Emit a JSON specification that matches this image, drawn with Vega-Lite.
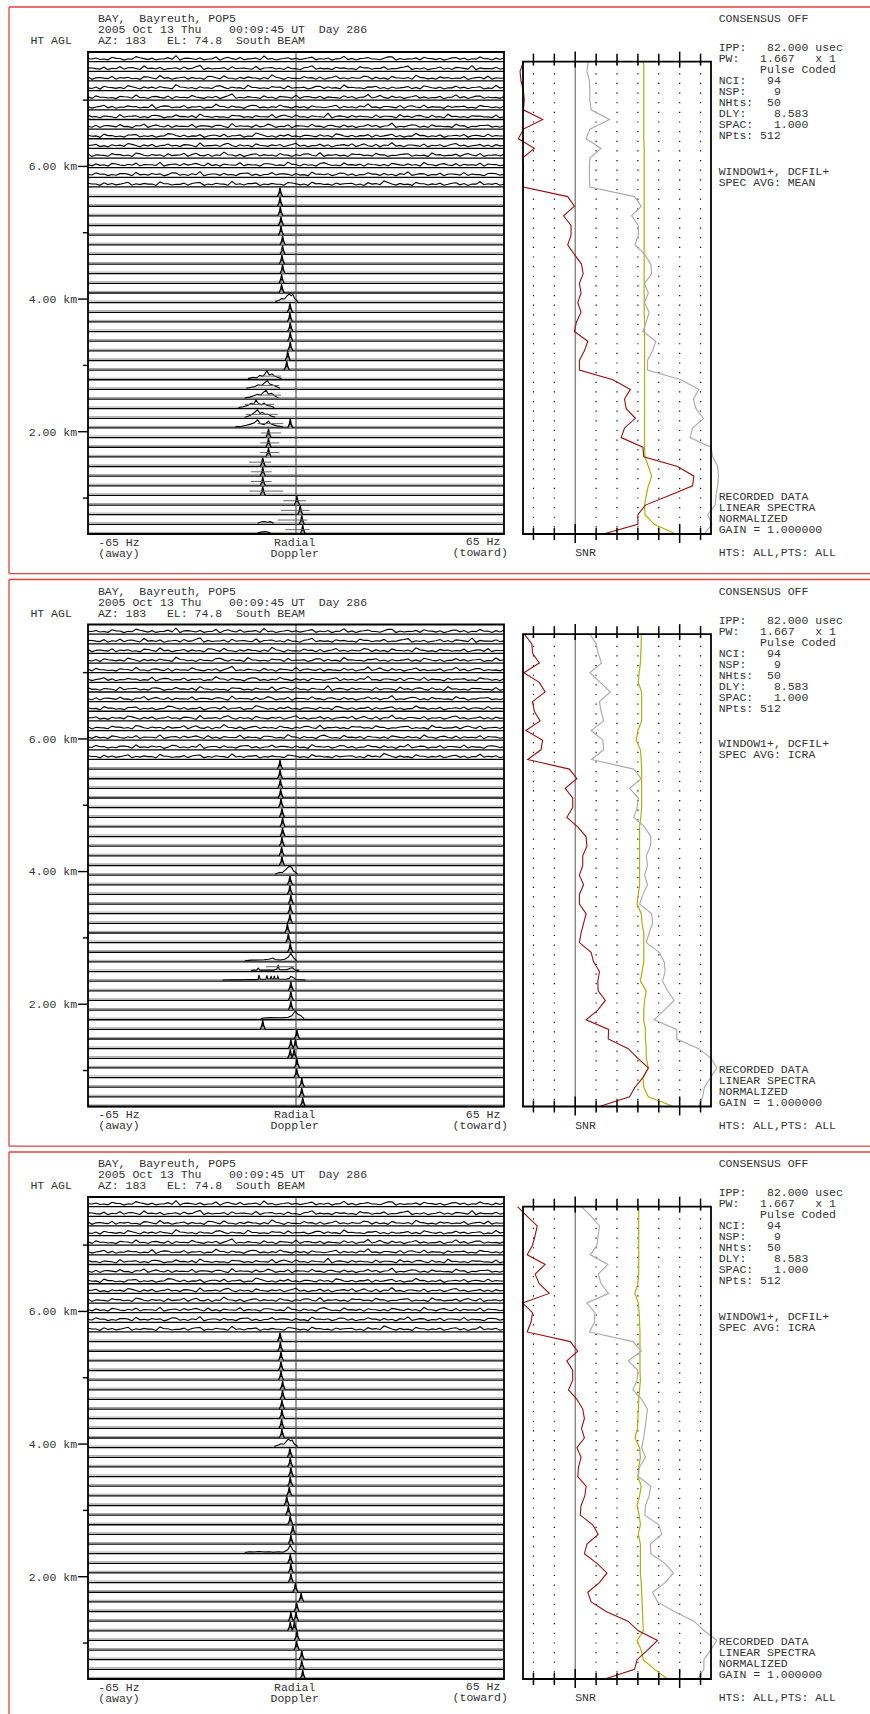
{
"$schema":"https://vega.github.io/schema/vega-lite/v6.json",
"background":"white",
"padding":{"left":8,"top":6,"right":0,"bottom":0},
"autosize":{"type":"pad"},
"spacing":6.5,
"bounds":"flush",
"config":{"view":{"stroke":null},"text":{"font":"Liberation Mono","fontSize":11.5,"fill":"#333"}},
"datasets":{
"rows":[{"h":0},{"h":100},{"h":200},{"h":300},{"h":400},{"h":500},{"h":600},{"h":700},{"h":800},{"h":900},{"h":1000},{"h":1100},{"h":1200},{"h":1300},{"h":1400},{"h":1500},{"h":1600},{"h":1700},{"h":1800},{"h":1900},{"h":2000},{"h":2100},{"h":2200},{"h":2300},{"h":2400},{"h":2500},{"h":2600},{"h":2700},{"h":2800},{"h":2900},{"h":3000},{"h":3100},{"h":3200},{"h":3300},{"h":3400},{"h":3500},{"h":3600},{"h":3700},{"h":3800},{"h":3900},{"h":4000},{"h":4100},{"h":4200},{"h":4300},{"h":4400},{"h":4500},{"h":4600},{"h":4700},{"h":4800},{"h":4900}],
"km":[{"t":373,"m":0},{"t":1061,"m":1,"l":"2.00 km"},{"t":1749,"m":0},{"t":2437,"m":1,"l":"4.00 km"},{"t":3125,"m":0},{"t":3813,"m":1,"l":"6.00 km"},{"t":4501,"m":0}],
"dots":[{"d":-10},{"d":-5},{"d":5},{"d":10},{"d":15},{"d":20},{"d":25},{"d":30}],
"tS":[{"d":-10},{"d":-5},{"d":5},{"d":10},{"d":15},{"d":20},{"d":30}],
"tL":[{"d":0},{"d":25}],
"noise":[
{"f":-65,"r49":4930,"r48":4835,"r47":4741,"r46":4628,"r45":4537,"r44":4432,"r43":4344,"r42":4229,"r41":4136,"r40":4031,"r39":3940,"r38":3834,"r37":3730,"r36":3638},
{"f":-62.5,"r49":4938,"r48":4828,"r47":4732,"r46":4636,"r45":4545,"r44":4429,"r43":4331,"r42":4240,"r41":4130,"r40":4043,"r39":3933,"r38":3839,"r37":3746,"r36":3631},
{"f":-60,"r49":4927,"r48":4842,"r47":4729,"r46":4644,"r45":4531,"r44":4447,"r43":4336,"r42":4235,"r41":4148,"r40":4029,"r39":3928,"r38":3830,"r37":3735,"r36":3643},
{"f":-57.5,"r49":4945,"r48":4831,"r47":4748,"r46":4630,"r45":4528,"r44":4436,"r43":4329,"r42":4231,"r41":4133,"r40":4037,"r39":3946,"r38":3844,"r37":3729,"r36":3635},
{"f":-55,"r49":4933,"r48":4847,"r47":4735,"r46":4633,"r45":4540,"r44":4430,"r43":4350,"r42":4246,"r41":4129,"r40":4034,"r39":3935,"r38":3828,"r37":3738,"r36":3629},
{"f":-52.5,"r49":4929,"r48":4836,"r47":4738,"r46":4651,"r45":4534,"r44":4441,"r43":4333,"r42":4228,"r41":4139,"r40":4050,"r39":3931,"r38":3836,"r37":3733,"r36":3648},
{"f":-50,"r49":4952,"r48":4829,"r47":4727,"r46":4629,"r45":4554,"r44":4435,"r43":4338,"r42":4237,"r41":4144,"r40":4030,"r39":3952,"r38":3847,"r37":3751,"r36":3633},
{"f":-47.5,"r49":4931,"r48":4855,"r47":4744,"r46":4638,"r45":4530,"r44":4428,"r43":4330,"r42":4252,"r41":4131,"r40":4036,"r39":3929,"r38":3833,"r37":3731,"r36":3637},
{"f":-45,"r49":4936,"r48":4833,"r47":4731,"r46":4635,"r45":4536,"r44":4453,"r43":4342,"r42":4233,"r41":4135,"r40":4041,"r39":3937,"r38":3831,"r37":3740,"r36":3630},
{"f":-42.5,"r49":4928,"r48":4840,"r47":4756,"r46":4642,"r45":4529,"r44":4433,"r43":4335,"r42":4230,"r41":4127,"r40":4028,"r39":3934,"r38":3855,"r37":3736,"r36":3652},
{"f":-40,"r49":4941,"r48":4828,"r47":4734,"r46":4627,"r45":4543,"r44":4439,"r43":4328,"r42":4241,"r41":4153,"r40":4045,"r39":3942,"r38":3829,"r37":3728,"r36":3634},
{"f":-37.5,"r49":4962,"r48":4837,"r47":4729,"r46":4660,"r45":4538,"r44":4430,"r43":4347,"r42":4236,"r41":4134,"r40":4033,"r39":3930,"r38":3838,"r37":3744,"r36":3628},
{"f":-35,"r49":4934,"r48":4844,"r47":4740,"r46":4634,"r45":4531,"r44":4445,"r43":4332,"r42":4229,"r41":4138,"r40":4039,"r39":3949,"r38":3842,"r37":3732,"r36":3640},
{"f":-32.5,"r49":4930,"r48":4830,"r47":4736,"r46":4631,"r45":4549,"r44":4431,"r43":4339,"r42":4248,"r41":4130,"r40":4031,"r39":3936,"r38":3835,"r37":3737,"r36":3636},
{"f":-30,"r49":4939,"r48":4861,"r47":4730,"r46":4639,"r45":4527,"r44":4437,"r43":4356,"r42":4234,"r41":4142,"r40":4056,"r39":3928,"r38":3830,"r37":3759,"r36":3645},
{"f":-27.5,"r49":4927,"r48":4835,"r47":4747,"r46":4628,"r45":4535,"r44":4428,"r43":4330,"r42":4231,"r41":4129,"r40":4029,"r39":3939,"r38":3846,"r37":3730,"r36":3631},
{"f":-25,"r49":4948,"r48":4829,"r47":4733,"r46":4646,"r45":4541,"r44":4458,"r43":4334,"r42":4239,"r41":4136,"r40":4035,"r39":3933,"r38":3832,"r37":3735,"r36":3638},
{"f":-22.5,"r49":4935,"r48":4838,"r47":4752,"r46":4633,"r45":4532,"r44":4434,"r43":4329,"r42":4227,"r41":4147,"r40":4042,"r39":3961,"r38":3837,"r37":3741,"r36":3629},
{"f":-20,"r49":4931,"r48":4846,"r47":4728,"r46":4637,"r45":4565,"r44":4440,"r43":4343,"r42":4257,"r41":4132,"r40":4030,"r39":3931,"r38":3828,"r37":3729,"r36":3657},
{"f":-17.5,"r49":4944,"r48":4832,"r47":4737,"r46":4630,"r45":4530,"r44":4429,"r43":4337,"r42":4235,"r41":4140,"r40":4038,"r39":3938,"r38":3851,"r37":3738,"r36":3633},
{"f":-15,"r49":4929,"r48":4827,"r47":4742,"r46":4655,"r45":4537,"r44":4436,"r43":4331,"r42":4232,"r41":4128,"r40":4033,"r39":3929,"r38":3834,"r37":3745,"r36":3635},
{"f":-12.5,"r49":4937,"r48":4850,"r47":4731,"r46":4632,"r45":4528,"r44":4444,"r43":4340,"r42":4243,"r41":4159,"r40":4047,"r39":3944,"r38":3831,"r37":3733,"r36":3642},
{"f":-10,"r49":4958,"r48":4834,"r47":4735,"r46":4629,"r45":4544,"r44":4431,"r43":4328,"r42":4230,"r41":4133,"r40":4028,"r39":3935,"r38":3840,"r37":3730,"r36":3630},
{"f":-7.5,"r49":4933,"r48":4839,"r47":4763,"r46":4641,"r45":4533,"r44":4433,"r43":4352,"r42":4238,"r41":4131,"r40":4036,"r39":3932,"r38":3836,"r37":3748,"r36":3637},
{"f":-5,"r49":4928,"r48":4831,"r47":4730,"r46":4636,"r45":4539,"r44":4450,"r43":4335,"r42":4229,"r41":4137,"r40":4040,"r39":3947,"r38":3829,"r37":3736,"r36":3628},
{"f":-2.5,"r49":4940,"r48":4843,"r47":4738,"r46":4648,"r45":4530,"r44":4428,"r43":4333,"r42":4245,"r41":4145,"r40":4031,"r39":3930,"r38":3858,"r37":3731,"r36":3646},
{"f":0,"r49":4935,"r48":4828,"r47":4727,"r46":4631,"r45":4552,"r44":4438,"r43":4346,"r42":4236,"r41":4130,"r40":4053,"r39":3936,"r38":3833,"r37":3739,"r36":3634},
{"f":2.5,"r49":4930,"r48":4836,"r47":4745,"r46":4635,"r45":4535,"r44":4435,"r43":4330,"r42":4233,"r41":4135,"r40":4034,"r39":3941,"r38":3838,"r37":3728,"r36":3631},
{"f":5,"r49":4947,"r48":4857,"r47":4734,"r46":4628,"r45":4529,"r44":4442,"r43":4338,"r42":4250,"r41":4128,"r40":4029,"r39":3928,"r38":3830,"r37":3753,"r36":3650},
{"f":7.5,"r49":4932,"r48":4833,"r47":4740,"r46":4644,"r45":4540,"r44":4430,"r43":4329,"r42":4231,"r41":4141,"r40":4044,"r39":3955,"r38":3843,"r37":3734,"r36":3636},
{"f":10,"r49":4938,"r48":4830,"r47":4729,"r46":4639,"r45":4534,"r44":4429,"r43":4364,"r42":4237,"r41":4134,"r40":4037,"r39":3933,"r38":3835,"r37":3737,"r36":3629},
{"f":12.5,"r49":4929,"r48":4841,"r47":4751,"r46":4630,"r45":4527,"r44":4447,"r43":4334,"r42":4228,"r41":4150,"r40":4030,"r39":3937,"r38":3828,"r37":3730,"r36":3641},
{"f":15,"r49":4955,"r48":4835,"r47":4733,"r46":4657,"r45":4546,"r44":4436,"r43":4331,"r42":4242,"r41":4129,"r40":4039,"r39":3930,"r38":3849,"r37":3742,"r36":3633},
{"f":17.5,"r49":4934,"r48":4828,"r47":4736,"r46":4634,"r45":4538,"r44":4432,"r43":4341,"r42":4234,"r41":4136,"r40":4048,"r39":3943,"r38":3832,"r37":3735,"r36":3638},
{"f":20,"r49":4931,"r48":4848,"r47":4728,"r46":4629,"r45":4531,"r44":4439,"r43":4336,"r42":4230,"r41":4132,"r40":4032,"r39":3939,"r38":3837,"r37":3729,"r36":3630},
{"f":22.5,"r49":4942,"r48":4837,"r47":4743,"r46":4638,"r45":4559,"r44":4462,"r43":4328,"r42":4247,"r41":4143,"r40":4028,"r39":3931,"r38":3841,"r37":3747,"r36":3644},
{"f":25,"r49":4928,"r48":4832,"r47":4739,"r46":4645,"r45":4533,"r44":4431,"r43":4345,"r42":4239,"r41":4138,"r40":4042,"r39":3948,"r38":3830,"r37":3733,"r36":3635},
{"f":27.5,"r49":4936,"r48":4845,"r47":4731,"r46":4632,"r45":4529,"r44":4435,"r43":4333,"r42":4232,"r41":4130,"r40":4035,"r39":3934,"r38":3834,"r37":3740,"r36":3662},
{"f":30,"r49":4950,"r48":4829,"r47":4747,"r46":4636,"r45":4542,"r44":4428,"r43":4330,"r42":4261,"r41":4146,"r40":4058,"r39":3929,"r38":3845,"r37":3731,"r36":3631},
{"f":32.5,"r49":4933,"r48":4838,"r47":4730,"r46":4628,"r45":4536,"r44":4444,"r43":4349,"r42":4229,"r41":4133,"r40":4031,"r39":3936,"r38":3829,"r37":3738,"r36":3637},
{"f":35,"r49":4929,"r48":4853,"r47":4735,"r46":4642,"r45":4530,"r44":4437,"r43":4335,"r42":4235,"r41":4129,"r40":4036,"r39":3945,"r38":3839,"r37":3756,"r36":3629},
{"f":37.5,"r49":4939,"r48":4831,"r47":4758,"r46":4633,"r45":4548,"r44":4430,"r43":4338,"r42":4240,"r41":4155,"r40":4029,"r39":3932,"r38":3833,"r37":3730,"r36":3647},
{"f":40,"r49":4945,"r48":4836,"r47":4732,"r46":4650,"r45":4534,"r44":4449,"r43":4329,"r42":4231,"r41":4135,"r40":4045,"r39":3930,"r38":3854,"r37":3736,"r36":3634},
{"f":42.5,"r49":4931,"r48":4827,"r47":4729,"r46":4630,"r45":4528,"r44":4433,"r43":4343,"r42":4244,"r41":4131,"r40":4033,"r39":3952,"r38":3831,"r37":3729,"r36":3632},
{"f":45,"r49":4935,"r48":4844,"r47":4741,"r46":4637,"r45":4539,"r44":4429,"r43":4331,"r42":4233,"r41":4140,"r40":4038,"r39":3935,"r38":3836,"r37":3743,"r36":3639},
{"f":47.5,"r49":4927,"r48":4834,"r47":4736,"r46":4629,"r45":4531,"r44":4441,"r43":4354,"r42":4228,"r41":4128,"r40":4030,"r39":3928,"r38":3828,"r37":3734,"r36":3628},
{"f":50,"r49":4943,"r48":4840,"r47":4730,"r46":4646,"r45":4555,"r44":4435,"r43":4334,"r42":4251,"r41":4137,"r40":4051,"r39":3940,"r38":3842,"r37":3731,"r36":3643},
{"f":52.5,"r49":4938,"r48":4830,"r47":4744,"r46":4635,"r45":4537,"r44":4438,"r43":4330,"r42":4236,"r41":4144,"r40":4034,"r39":3937,"r38":3835,"r37":3749,"r36":3636},
{"f":55,"r49":4930,"r48":4858,"r47":4727,"r46":4631,"r45":4530,"r44":4427,"r43":4339,"r42":4230,"r41":4132,"r40":4028,"r39":3931,"r38":3830,"r37":3735,"r36":3630},
{"f":57.5,"r49":4949,"r48":4835,"r47":4738,"r46":4640,"r45":4543,"r44":4446,"r43":4336,"r42":4238,"r41":4130,"r40":4041,"r39":3946,"r38":3847,"r37":3728,"r36":3654},
{"f":60,"r49":4933,"r48":4829,"r47":4749,"r46":4628,"r45":4533,"r44":4434,"r43":4328,"r42":4242,"r41":4148,"r40":4035,"r39":3929,"r38":3838,"r37":3740,"r36":3633},
{"f":62.5,"r49":4936,"r48":4842,"r47":4733,"r46":4653,"r45":4529,"r44":4431,"r43":4345,"r42":4229,"r41":4134,"r40":4039,"r39":3934,"r38":3832,"r37":3737,"r36":3638},
{"f":65,"r49":4941,"r48":4833,"r47":4731,"r46":4634,"r45":4538,"r44":4440,"r43":4332,"r42":4235,"r41":4129,"r40":4030,"r39":3938,"r38":3829,"r37":3733,"r36":3631},
{"f":-63.75,"r49":4928,"r48":4834,"r47":4717,"r46":4621,"r45":4519,"r44":4418,"r43":4327,"r42":4220,"r41":4126,"r40":4033,"r39":3916,"r38":3819,"r37":3724,"r36":3631},
{"f":-61.25,"r49":4923,"r48":4823,"r47":4735,"r46":4616,"r45":4531,"r44":4436,"r43":4318,"r42":4217,"r41":4115,"r40":4019,"r39":3930,"r38":3824,"r37":3732,"r36":3617},
{"f":-58.75,"r49":4919,"r48":4817,"r47":4724,"r46":4634,"r45":4523,"r44":4421,"r43":4332,"r42":4236,"r41":4133,"r40":4016,"r39":3919,"r38":3817,"r37":3718,"r36":3625},
{"f":-56.25,"r49":4934,"r48":4826,"r47":4718,"r46":4623,"r45":4517,"r44":4417,"r43":4316,"r42":4223,"r41":4121,"r40":4028,"r39":3935,"r38":3838,"r37":3721,"r36":3622},
{"f":-53.75,"r49":4916,"r48":4821,"r47":4729,"r46":4619,"r45":4536,"r44":4427,"r43":4324,"r42":4226,"r41":4117,"r40":4022,"r39":3924,"r38":3821,"r37":3739,"r36":3638},
{"f":-51.25,"r49":4925,"r48":4839,"r47":4723,"r46":4640,"r45":4521,"r44":4432,"r43":4335,"r42":4215,"r41":4140,"r40":4042,"r39":3917,"r38":3826,"r37":3717,"r36":3618},
{"f":-48.75,"r49":4940,"r48":4819,"r47":4716,"r46":4617,"r45":4525,"r44":4419,"r43":4321,"r42":4232,"r41":4119,"r40":4018,"r39":3943,"r38":3818,"r37":3726,"r36":3624},
{"f":-46.25,"r49":4921,"r48":4828,"r47":4741,"r46":4625,"r45":4518,"r44":4423,"r43":4319,"r42":4219,"r41":4124,"r40":4024,"r39":3921,"r38":3830,"r37":3723,"r36":3629},
{"f":-43.75,"r49":4918,"r48":4824,"r47":4721,"r46":4622,"r45":4540,"r44":4415,"r43":4343,"r42":4244,"r41":4116,"r40":4017,"r39":3928,"r38":3823,"r37":3730,"r36":3616},
{"f":-41.25,"r49":4929,"r48":4816,"r47":4727,"r46":4630,"r45":4522,"r44":4441,"r43":4317,"r42":4222,"r41":4129,"r40":4031,"r39":3916,"r38":3816,"r37":3715,"r36":3633},
{"f":-38.75,"r49":4924,"r48":4832,"r47":4718,"r46":4618,"r45":4516,"r44":4422,"r43":4326,"r42":4217,"r41":4150,"r40":4026,"r39":3925,"r38":3835,"r37":3748,"r36":3621},
{"f":-36.25,"r49":4917,"r48":4820,"r47":4733,"r46":4637,"r45":4528,"r44":4426,"r43":4330,"r42":4228,"r41":4122,"r40":4019,"r39":3932,"r38":3820,"r37":3722,"r36":3627},
{"f":-33.75,"r49":4936,"r48":4825,"r47":4719,"r46":4624,"r45":4524,"r44":4418,"r43":4323,"r42":4224,"r41":4118,"r40":4037,"r39":3918,"r38":3827,"r37":3719,"r36":3619},
{"f":-31.25,"r49":4922,"r48":4847,"r47":4725,"r46":4616,"r45":4533,"r44":4430,"r43":4318,"r42":4218,"r41":4127,"r40":4015,"r39":3949,"r38":3844,"r37":3727,"r36":3644},
{"f":-28.75,"r49":4919,"r48":4818,"r47":4716,"r46":4627,"r45":4519,"r44":4417,"r43":4334,"r42":4235,"r41":4115,"r40":4023,"r39":3923,"r38":3818,"r37":3716,"r36":3617},
{"f":-26.25,"r49":4927,"r48":4823,"r47":4746,"r46":4621,"r45":4526,"r44":4424,"r43":4320,"r42":4221,"r41":4136,"r40":4029,"r39":3917,"r38":3822,"r37":3734,"r36":3623},
{"f":-23.75,"r49":4915,"r48":4829,"r47":4722,"r46":4649,"r45":4517,"r44":4435,"r43":4325,"r42":4240,"r41":4123,"r40":4020,"r39":3926,"r38":3817,"r37":3721,"r36":3630},
{"f":-21.25,"r49":4945,"r48":4817,"r47":4728,"r46":4619,"r45":4545,"r44":4420,"r43":4316,"r42":4216,"r41":4119,"r40":4053,"r39":3934,"r38":3831,"r37":3725,"r36":3618},
{"f":-18.75,"r49":4923,"r48":4826,"r47":4717,"r46":4626,"r45":4521,"r44":4428,"r43":4339,"r42":4225,"r41":4132,"r40":4018,"r39":3920,"r38":3825,"r37":3718,"r36":3626},
{"f":-16.25,"r49":4920,"r48":4833,"r47":4724,"r46":4617,"r45":4523,"r44":4416,"r43":4322,"r42":4230,"r41":4117,"r40":4025,"r39":3915,"r38":3819,"r37":3743,"r36":3621},
{"f":-13.75,"r49":4931,"r48":4821,"r47":4732,"r46":4632,"r45":4530,"r44":4447,"r43":4319,"r42":4219,"r41":4125,"r40":4016,"r39":3938,"r38":3828,"r37":3720,"r36":3635},
{"f":-11.25,"r49":4918,"r48":4818,"r47":4719,"r46":4623,"r45":4518,"r44":4421,"r43":4328,"r42":4223,"r41":4146,"r40":4032,"r39":3922,"r38":3816,"r37":3717,"r36":3616},
{"f":-8.75,"r49":4926,"r48":4836,"r47":4721,"r46":4620,"r45":4525,"r44":4419,"r43":4324,"r42":4251,"r41":4121,"r40":4021,"r39":3927,"r38":3840,"r37":3729,"r36":3624},
{"f":-6.25,"r49":4917,"r48":4824,"r47":4738,"r46":4635,"r45":4516,"r44":4425,"r43":4317,"r42":4218,"r41":4116,"r40":4027,"r39":3919,"r38":3823,"r37":3724,"r36":3628},
{"f":-3.75,"r49":4933,"r48":4819,"r47":4716,"r46":4618,"r45":4534,"r44":4433,"r43":4346,"r42":4226,"r41":4128,"r40":4018,"r39":3931,"r38":3821,"r37":3736,"r36":3619},
{"f":-1.25,"r49":4924,"r48":4827,"r47":4726,"r46":4624,"r45":4522,"r44":4418,"r43":4321,"r42":4215,"r41":4123,"r40":4040,"r39":3916,"r38":3834,"r37":3719,"r36":3641},
{"f":1.25,"r49":4921,"r48":4816,"r47":4723,"r46":4629,"r45":4519,"r44":4423,"r43":4326,"r42":4233,"r41":4118,"r40":4023,"r39":3924,"r38":3818,"r37":3723,"r36":3622},
{"f":3.75,"r49":4938,"r48":4841,"r47":4730,"r46":4616,"r45":4538,"r44":4416,"r43":4318,"r42":4222,"r41":4135,"r40":4017,"r39":3945,"r38":3826,"r37":3716,"r36":3617},
{"f":6.25,"r49":4919,"r48":4822,"r47":4718,"r46":4643,"r45":4524,"r44":4429,"r43":4331,"r42":4228,"r41":4120,"r40":4028,"r39":3921,"r38":3817,"r37":3732,"r36":3632},
{"f":8.75,"r49":4925,"r48":4825,"r47":4717,"r46":4621,"r45":4517,"r44":4422,"r43":4323,"r42":4217,"r41":4126,"r40":4022,"r39":3918,"r38":3852,"r37":3727,"r36":3625},
{"f":11.25,"r49":4916,"r48":4818,"r47":4735,"r46":4625,"r45":4529,"r44":4438,"r43":4316,"r42":4239,"r41":4117,"r40":4015,"r39":3929,"r38":3822,"r37":3718,"r36":3618},
{"f":13.75,"r49":4930,"r48":4830,"r47":4724,"r46":4618,"r45":4521,"r44":4417,"r43":4337,"r42":4221,"r41":4143,"r40":4034,"r39":3923,"r38":3819,"r37":3745,"r36":3627},
{"f":16.25,"r49":4922,"r48":4823,"r47":4720,"r46":4631,"r45":4526,"r44":4424,"r43":4320,"r42":4224,"r41":4122,"r40":4026,"r39":3916,"r38":3829,"r37":3722,"r36":3636},
{"f":18.75,"r49":4918,"r48":4817,"r47":4727,"r46":4627,"r45":4518,"r44":4420,"r43":4325,"r42":4216,"r41":4119,"r40":4019,"r39":3936,"r38":3824,"r37":3717,"r36":3620},
{"f":21.25,"r49":4935,"r48":4835,"r47":4750,"r46":4619,"r45":4532,"r44":4431,"r43":4329,"r42":4231,"r41":4130,"r40":4047,"r39":3925,"r38":3816,"r37":3726,"r36":3616},
{"f":23.75,"r49":4927,"r48":4821,"r47":4719,"r46":4636,"r45":4523,"r44":4426,"r43":4318,"r42":4227,"r41":4116,"r40":4021,"r39":3920,"r38":3833,"r37":3733,"r36":3630},
{"f":26.25,"r49":4920,"r48":4828,"r47":4723,"r46":4622,"r45":4550,"r44":4418,"r43":4322,"r42":4219,"r41":4124,"r40":4017,"r39":3933,"r38":3821,"r37":3720,"r36":3623},
{"f":28.75,"r49":4949,"r48":4819,"r47":4716,"r46":4617,"r45":4519,"r44":4434,"r43":4333,"r42":4235,"r41":4138,"r40":4030,"r39":3917,"r38":3818,"r37":3724,"r36":3646},
{"f":31.25,"r49":4917,"r48":4826,"r47":4732,"r46":4624,"r45":4525,"r44":4421,"r43":4317,"r42":4218,"r41":4121,"r40":4024,"r39":3926,"r38":3837,"r37":3716,"r36":3619},
{"f":33.75,"r49":4923,"r48":4844,"r47":4725,"r46":4633,"r45":4517,"r44":4417,"r43":4327,"r42":4223,"r41":4117,"r40":4018,"r39":3941,"r38":3823,"r37":3730,"r36":3624},
{"f":36.25,"r49":4928,"r48":4818,"r47":4718,"r46":4620,"r45":4535,"r44":4443,"r43":4321,"r42":4246,"r41":4127,"r40":4036,"r39":3919,"r38":3826,"r37":3721,"r36":3617},
{"f":38.75,"r49":4919,"r48":4824,"r47":4737,"r46":4618,"r45":4522,"r44":4423,"r43":4342,"r42":4220,"r41":4133,"r40":4022,"r39":3924,"r38":3817,"r37":3738,"r36":3633},
{"f":41.25,"r49":4932,"r48":4817,"r47":4721,"r46":4640,"r45":4520,"r44":4419,"r43":4319,"r42":4217,"r41":4119,"r40":4016,"r39":3915,"r38":3831,"r37":3718,"r36":3621},
{"f":43.75,"r49":4921,"r48":4831,"r47":4717,"r46":4623,"r45":4527,"r44":4428,"r43":4324,"r42":4229,"r41":4123,"r40":4027,"r39":3932,"r38":3819,"r37":3725,"r36":3626},
{"f":46.25,"r49":4916,"r48":4822,"r47":4729,"r46":4616,"r45":4516,"r44":4416,"r43":4316,"r42":4224,"r41":4115,"r40":4019,"r39":3922,"r38":3842,"r37":3717,"r36":3618},
{"f":48.75,"r49":4939,"r48":4819,"r47":4723,"r46":4628,"r45":4531,"r44":4425,"r43":4330,"r42":4218,"r41":4131,"r40":4043,"r39":3928,"r38":3822,"r37":3734,"r36":3639},
{"f":51.25,"r49":4924,"r48":4837,"r47":4726,"r46":4625,"r45":4524,"r44":4432,"r43":4323,"r42":4232,"r41":4126,"r40":4025,"r39":3918,"r38":3818,"r37":3723,"r36":3622},
{"f":53.75,"r49":4918,"r48":4823,"r47":4715,"r46":4619,"r45":4518,"r44":4420,"r43":4318,"r42":4215,"r41":4118,"r40":4018,"r39":3946,"r38":3827,"r37":3719,"r36":3616},
{"f":56.25,"r49":4926,"r48":4816,"r47":4734,"r46":4634,"r45":4542,"r44":4418,"r43":4335,"r42":4226,"r41":4137,"r40":4031,"r39":3923,"r38":3824,"r37":3728,"r36":3629},
{"f":58.75,"r49":4930,"r48":4828,"r47":4722,"r46":4617,"r45":4521,"r44":4436,"r43":4326,"r42":4237,"r41":4121,"r40":4021,"r39":3917,"r38":3816,"r37":3716,"r36":3623},
{"f":61.25,"r49":4917,"r48":4825,"r47":4719,"r46":4622,"r45":4526,"r44":4422,"r43":4320,"r42":4221,"r41":4124,"r40":4017,"r39":3930,"r38":3833,"r37":3741,"r36":3627},
{"f":63.75,"r49":4923,"r48":4821,"r47":4728,"r46":4626,"r45":4519,"r44":4417,"r43":4317,"r42":4219,"r41":4129,"r40":4026,"r39":3921,"r38":3820,"r37":3722,"r36":3618}
],
"pk1":[{"h":3500,"f":-5.0},{"h":3400,"f":-5.0},{"h":3300,"f":-4.9},{"h":3200,"f":-4.7},{"h":3100,"f":-4.7},{"h":3000,"f":-4.2},{"h":2900,"f":-4.2},{"h":2800,"f":-4.4},{"h":2700,"f":-4.2},{"h":2600,"f":-4.5},{"h":2500,"f":-4.5},{"h":2300,"f":-1.9},{"h":2200,"f":-1.9},{"h":2100,"f":-1.8},{"h":2000,"f":-1.8},{"h":1900,"f":-1.8},{"h":1800,"f":-2.6},{"h":1700,"f":-2.9},{"h":1100,"f":-1.8},{"h":1000,"f":-8.6},{"h":900,"f":-8.6},{"h":800,"f":-8.6},{"h":700,"f":-10.4},{"h":600,"f":-10.4},{"h":500,"f":-10.4},{"h":400,"f":-10.4},{"h":300,"f":0.3},{"h":200,"f":1.3},{"h":100,"f":1.8},{"h":0,"f":2.1}],
"pk2":[{"h":3500,"f":-5.0},{"h":3400,"f":-5.0},{"h":3300,"f":-4.9},{"h":3200,"f":-4.8},{"h":3100,"f":-4.7},{"h":3000,"f":-4.4},{"h":2900,"f":-4.2},{"h":2800,"f":-4.2},{"h":2700,"f":-4.4},{"h":2600,"f":-4.5},{"h":2500,"f":-4.4},{"h":2300,"f":-1.9},{"h":2200,"f":-1.9},{"h":2100,"f":-1.6},{"h":2000,"f":-1.8},{"h":1900,"f":-1.9},{"h":1800,"f":-2.7},{"h":1700,"f":-2.4},{"h":1600,"f":-1.8},{"h":1200,"f":-1.6},{"h":1100,"f":-1.6},{"h":1000,"f":-1.6},{"h":800,"f":-10.4},{"h":700,"f":0.3},{"h":600,"f":-1.6},{"h":600,"f":-0.2},{"h":500,"f":-1.8},{"h":500,"f":-0.6},{"h":400,"f":0.3},{"h":300,"f":0.2},{"h":200,"f":1.8},{"h":100,"f":1.8},{"h":0,"f":2.1}],
"pk3":[{"h":3500,"f":-5.0},{"h":3400,"f":-4.9},{"h":3300,"f":-4.7},{"h":3200,"f":-4.7},{"h":3100,"f":-4.7},{"h":3000,"f":-4.2},{"h":2900,"f":-4.2},{"h":2800,"f":-4.4},{"h":2700,"f":-4.4},{"h":2600,"f":-4.5},{"h":2500,"f":-4.4},{"h":2300,"f":-1.9},{"h":2200,"f":-1.8},{"h":2100,"f":-1.6},{"h":2000,"f":-1.8},{"h":1900,"f":-2.1},{"h":1800,"f":-2.9},{"h":1700,"f":-2.4},{"h":1600,"f":-1.8},{"h":1500,"f":-1.0},{"h":1400,"f":-1.6},{"h":1200,"f":-1.8},{"h":1100,"f":-1.6},{"h":1000,"f":-1.6},{"h":900,"f":-0.2},{"h":800,"f":1.6},{"h":700,"f":0.2},{"h":600,"f":-1.6},{"h":600,"f":0.0},{"h":500,"f":-1.8},{"h":500,"f":-0.5},{"h":400,"f":0.3},{"h":300,"f":0.2},{"h":200,"f":1.8},{"h":100,"f":1.8},{"h":0,"f":2.1}],
"tr1":[
{"h":2400,"f":-6.5,"y":2412},{"h":2400,"f":-5.2,"y":2425},{"h":2400,"f":-4.5,"y":2442},{"h":2400,"f":-3.6,"y":2438},{"h":2400,"f":-2.8,"y":2470},{"h":2400,"f":-2.1,"y":2490},{"h":2400,"f":-1.5,"y":2472},{"h":2400,"f":-1.0,"y":2486},{"h":2400,"f":-0.4,"y":2440},{"h":2400,"f":0.6,"y":2412},
{"h":1600,"f":-15,"y":1612},{"h":1600,"f":-13.5,"y":1625},{"h":1600,"f":-12.3,"y":1620},{"h":1600,"f":-11.3,"y":1645},{"h":1600,"f":-10.5,"y":1635},{"h":1600,"f":-9.8,"y":1655},{"h":1600,"f":-9.1,"y":1692},{"h":1600,"f":-8.3,"y":1650},{"h":1600,"f":-7.5,"y":1662},{"h":1600,"f":-6.8,"y":1640},{"h":1600,"f":-5.8,"y":1625},{"h":1600,"f":-4.5,"y":1612},
{"h":1500,"f":-15.5,"y":1512},{"h":1500,"f":-14,"y":1522},{"h":1500,"f":-12.8,"y":1530},{"h":1500,"f":-11.8,"y":1548},{"h":1500,"f":-10.8,"y":1540},{"h":1500,"f":-9.9,"y":1565},{"h":1500,"f":-9.0,"y":1592},{"h":1500,"f":-8.2,"y":1555},{"h":1500,"f":-7.3,"y":1545},{"h":1500,"f":-6.2,"y":1530},{"h":1500,"f":-5,"y":1512},
{"h":1400,"f":-16,"y":1412},{"h":1400,"f":-14.5,"y":1420},{"h":1400,"f":-13.2,"y":1435},{"h":1400,"f":-12,"y":1450},{"h":1400,"f":-11,"y":1442},{"h":1400,"f":-10.2,"y":1470},{"h":1400,"f":-9.4,"y":1490},{"h":1400,"f":-8.6,"y":1452},{"h":1400,"f":-7.6,"y":1458},{"h":1400,"f":-6.8,"y":1435},{"h":1400,"f":-5.5,"y":1412},
{"h":1300,"f":-18,"y":1312},{"h":1300,"f":-16.5,"y":1320},{"h":1300,"f":-15,"y":1335},{"h":1300,"f":-14,"y":1355},{"h":1300,"f":-13.2,"y":1345},{"h":1300,"f":-12.5,"y":1390},{"h":1300,"f":-11.8,"y":1355},{"h":1300,"f":-10.8,"y":1340},{"h":1300,"f":-10,"y":1360},{"h":1300,"f":-9.2,"y":1335},{"h":1300,"f":-8,"y":1328},{"h":1300,"f":-6.8,"y":1312},
{"h":1200,"f":-16,"y":1212},{"h":1200,"f":-14.8,"y":1225},{"h":1200,"f":-13.8,"y":1240},{"h":1200,"f":-13,"y":1260},{"h":1200,"f":-12,"y":1288},{"h":1200,"f":-11.2,"y":1250},{"h":1200,"f":-10.5,"y":1262},{"h":1200,"f":-9.6,"y":1240},{"h":1200,"f":-8.8,"y":1245},{"h":1200,"f":-7.8,"y":1225},{"h":1200,"f":-6.5,"y":1212},
{"h":1100,"f":-19,"y":1112},{"h":1100,"f":-17,"y":1118},{"h":1100,"f":-15.5,"y":1128},{"h":1100,"f":-14.2,"y":1140},{"h":1100,"f":-13,"y":1155},{"h":1100,"f":-12,"y":1185},{"h":1100,"f":-11.2,"y":1145},{"h":1100,"f":-10,"y":1135},{"h":1100,"f":-8.6,"y":1170},{"h":1100,"f":-7.8,"y":1140},{"h":1100,"f":-6,"y":1122},{"h":1100,"f":-4,"y":1112},
{"h":100,"f":-12,"y":112},{"h":100,"f":-11,"y":125},{"h":100,"f":-10,"y":130},{"h":100,"f":-9,"y":122},{"h":100,"f":-8,"y":128},{"h":100,"f":-7,"y":112},
{"h":0,"f":-12,"y":12},{"h":0,"f":-10.5,"y":22},{"h":0,"f":-9.5,"y":25},{"h":0,"f":-8,"y":12}
],
"tr2":[
{"h":2400,"f":-6.5,"y":2412},{"h":2400,"f":-5,"y":2430},{"h":2400,"f":-4.3,"y":2425},{"h":2400,"f":-3.3,"y":2455},{"h":2400,"f":-2.6,"y":2478},{"h":2400,"f":-2.1,"y":2490},{"h":2400,"f":-1.4,"y":2482},{"h":2400,"f":-0.8,"y":2445},{"h":2400,"f":0.5,"y":2412},
{"h":1500,"f":-16,"y":1512},{"h":1500,"f":-14,"y":1518},{"h":1500,"f":-12,"y":1520},{"h":1500,"f":-10,"y":1522},{"h":1500,"f":-8.5,"y":1528},{"h":1500,"f":-7.2,"y":1540},{"h":1500,"f":-6.5,"y":1525},{"h":1500,"f":-5,"y":1520},{"h":1500,"f":-3.5,"y":1528},{"h":1500,"f":-2.4,"y":1550},{"h":1500,"f":-1.6,"y":1590},{"h":1500,"f":-0.8,"y":1545},{"h":1500,"f":0.2,"y":1512},
{"h":1400,"f":-14,"y":1412},{"h":1400,"f":-12.3,"y":1415},{"h":1400,"f":-11.8,"y":1435},{"h":1400,"f":-11.3,"y":1415},{"h":1400,"f":-7,"y":1415},{"h":1400,"f":-6,"y":1425},{"h":1400,"f":-5.6,"y":1460},{"h":1400,"f":-5.2,"y":1420},{"h":1400,"f":-3,"y":1418},{"h":1400,"f":-1.8,"y":1435},{"h":1400,"f":-1.2,"y":1440},{"h":1400,"f":-0.2,"y":1415},{"h":1400,"f":1,"y":1412},
{"h":1300,"f":-23,"y":1312},{"h":1300,"f":-20,"y":1315},{"h":1300,"f":-17,"y":1314},{"h":1300,"f":-15,"y":1318},{"h":1300,"f":-12.5,"y":1316},{"h":1300,"f":-11.8,"y":1318},{"h":1300,"f":-11.6,"y":1365},{"h":1300,"f":-11.2,"y":1320},{"h":1300,"f":-9.4,"y":1320},{"h":1300,"f":-9.1,"y":1360},{"h":1300,"f":-8.8,"y":1322},{"h":1300,"f":-8,"y":1322},{"h":1300,"f":-7.8,"y":1355},{"h":1300,"f":-7.5,"y":1322},{"h":1300,"f":-7,"y":1322},{"h":1300,"f":-6.8,"y":1355},{"h":1300,"f":-6.5,"y":1322},{"h":1300,"f":-5.9,"y":1322},{"h":1300,"f":-5.7,"y":1350},{"h":1300,"f":-5.4,"y":1322},{"h":1300,"f":-3,"y":1320},{"h":1300,"f":-2,"y":1330},{"h":1300,"f":-1.6,"y":1350},{"h":1300,"f":-1,"y":1340},{"h":1300,"f":0,"y":1318},{"h":1300,"f":3,"y":1312},
{"h":900,"f":-11,"y":912},{"h":900,"f":-9.9,"y":918},{"h":900,"f":-8,"y":922},{"h":900,"f":-6,"y":920},{"h":900,"f":-4,"y":922},{"h":900,"f":-2.5,"y":925},{"h":900,"f":-1.3,"y":940},{"h":900,"f":-0.6,"y":975},{"h":900,"f":-0.2,"y":988},{"h":900,"f":0.5,"y":960},{"h":900,"f":1.4,"y":945},{"h":900,"f":2.5,"y":912}
],
"tr3":[
{"h":2400,"f":-6.8,"y":2412},{"h":2400,"f":-5.5,"y":2428},{"h":2400,"f":-4.7,"y":2440},{"h":2400,"f":-3.8,"y":2435},{"h":2400,"f":-3,"y":2465},{"h":2400,"f":-2.4,"y":2490},{"h":2400,"f":-1.8,"y":2470},{"h":2400,"f":-1.2,"y":2480},{"h":2400,"f":-0.6,"y":2440},{"h":2400,"f":0.5,"y":2412},
{"h":1300,"f":-16,"y":1312},{"h":1300,"f":-14.5,"y":1320},{"h":1300,"f":-13,"y":1318},{"h":1300,"f":-11.5,"y":1322},{"h":1300,"f":-10,"y":1317},{"h":1300,"f":-8.5,"y":1320},{"h":1300,"f":-7,"y":1315},{"h":1300,"f":-5.5,"y":1320},{"h":1300,"f":-4,"y":1315},{"h":1300,"f":-2.6,"y":1340},{"h":1300,"f":-1.8,"y":1388},{"h":1300,"f":-1.0,"y":1340},{"h":1300,"f":0,"y":1312}
],
"bars1":[{"h":1638,"a":-10.9,"b":-4.7},{"h":1541,"a":-11.4,"b":-5.2},{"h":1441,"a":-12,"b":-4.7},{"h":1345,"a":-16,"b":-6.8},{"h":1241,"a":-15.7,"b":-5.7},{"h":1145,"a":-12,"b":-4.0},{"h":1048,"a":-10.9,"b":-4.7},{"h":945,"a":-11.2,"b":-5.2},{"h":845,"a":-11.2,"b":-5.2},{"h":745,"a":-14.6,"b":-7.8},{"h":645,"a":-14.1,"b":-7.6},{"h":545,"a":-14.1,"b":-7.6},{"h":445,"a":-14.6,"b":-4.0},{"h":345,"a":-4.0,"b":3.1},{"h":245,"a":-4.7,"b":4.2},{"h":145,"a":-5.7,"b":3.6},{"h":45,"a":-3.3,"b":4.2}],
"bars2":[{"h":1450,"a":-9.4,"b":-0.5}],
"snr1":[{"h":4900,"snr":-12.4,"sig":3.1,"noi":16.4},{"h":4800,"snr":-13.2,"sig":2.8,"noi":16.4},{"h":4700,"snr":-13.0,"sig":3.4,"noi":16.4},{"h":4600,"snr":-12.4,"sig":3.5,"noi":16.4},{"h":4500,"snr":-12.2,"sig":3.5,"noi":16.4},{"h":4400,"snr":-12.4,"sig":3.8,"noi":16.4},{"h":4300,"snr":-7.8,"sig":8.2,"noi":16.4},{"h":4200,"snr":-12.4,"sig":3.5,"noi":16.4},{"h":4100,"snr":-13.6,"sig":2.6,"noi":16.4},{"h":4000,"snr":-9.8,"sig":6.2,"noi":16.5},{"h":3900,"snr":-12.6,"sig":3.5,"noi":16.5},{"h":3800,"snr":-12.4,"sig":3.4,"noi":16.5},{"h":3700,"snr":-12.6,"sig":3.4,"noi":16.5},{"h":3600,"snr":-12.4,"sig":3.5,"noi":16.5},{"h":3500,"snr":-1.8,"sig":14.2,"noi":16.5},{"h":3400,"snr":-0.2,"sig":15.8,"noi":16.5},{"h":3300,"snr":-2.8,"sig":13.5,"noi":16.5},{"h":3200,"snr":-1.0,"sig":15.1,"noi":16.5},{"h":3100,"snr":-1.0,"sig":15.1,"noi":16.5},{"h":3000,"snr":-1.8,"sig":14.3,"noi":16.5},{"h":2900,"snr":-0.2,"sig":16.6,"noi":16.5},{"h":2800,"snr":1.5,"sig":18.1,"noi":16.5},{"h":2700,"snr":1.9,"sig":18.3,"noi":16.5},{"h":2600,"snr":1.0,"sig":16.6,"noi":16.5},{"h":2500,"snr":1.4,"sig":17.5,"noi":16.5},{"h":2400,"snr":0.6,"sig":16.6,"noi":16.5},{"h":2300,"snr":1.4,"sig":17.7,"noi":16.5},{"h":2200,"snr":0.3,"sig":17.0,"noi":16.6},{"h":2100,"snr":-0.2,"sig":16.2,"noi":16.6},{"h":2000,"snr":3.0,"sig":19.3,"noi":16.6},{"h":1900,"snr":2.2,"sig":18.5,"noi":16.6},{"h":1800,"snr":1.0,"sig":17.3,"noi":16.6},{"h":1700,"snr":1.0,"sig":17.3,"noi":16.6},{"h":1600,"snr":9.0,"sig":25.3,"noi":16.6},{"h":1500,"snr":13.2,"sig":29.6,"noi":16.6},{"h":1400,"snr":11.8,"sig":28.3,"noi":16.6},{"h":1300,"snr":12.2,"sig":28.9,"noi":16.6},{"h":1200,"snr":14.4,"sig":30.7,"noi":16.6},{"h":1100,"snr":11.8,"sig":28.1,"noi":16.6},{"h":1000,"snr":11.0,"sig":27.5,"noi":16.6},{"h":900,"snr":16.2,"sig":32.5,"noi":16.6},{"h":800,"snr":16.4,"sig":32.9,"noi":16.7},{"h":700,"snr":24.5,"sig":34.1,"noi":17.5},{"h":600,"snr":28.4,"sig":34.3,"noi":18.3},{"h":500,"snr":28.1,"sig":34.1,"noi":17.5},{"h":400,"snr":22.5,"sig":33.7,"noi":17.0},{"h":300,"snr":16.8,"sig":33.5,"noi":16.6},{"h":200,"snr":15.0,"sig":31.7,"noi":16.7},{"h":100,"snr":15.0,"sig":32.7,"noi":18.9},{"h":0,"snr":6.7,"sig":30.9,"noi":24.1}],
"snr2":[{"h":4900,"snr":-12.2,"sig":3.5,"noi":15.8},{"h":4800,"snr":-10.4,"sig":5.0,"noi":15.8},{"h":4700,"snr":-10.2,"sig":5.5,"noi":15.7},{"h":4600,"snr":-8.6,"sig":6.3,"noi":15.6},{"h":4500,"snr":-12.3,"sig":3.5,"noi":15.3},{"h":4400,"snr":-8.6,"sig":6.0,"noi":15.1},{"h":4300,"snr":-7.2,"sig":8.4,"noi":15.9},{"h":4200,"snr":-10.2,"sig":5.8,"noi":15.9},{"h":4100,"snr":-9.8,"sig":6.2,"noi":15.9},{"h":4000,"snr":-8.4,"sig":6.8,"noi":15.9},{"h":3900,"snr":-11.8,"sig":3.8,"noi":15.0},{"h":3800,"snr":-7.8,"sig":6.6,"noi":14.6},{"h":3700,"snr":-8.2,"sig":6.8,"noi":15.6},{"h":3600,"snr":-11.4,"sig":3.9,"noi":15.8},{"h":3500,"snr":-1.4,"sig":14.0,"noi":15.9},{"h":3400,"snr":0.4,"sig":15.8,"noi":15.9},{"h":3300,"snr":-2.4,"sig":13.0,"noi":15.9},{"h":3200,"snr":-0.6,"sig":15.1,"noi":15.9},{"h":3100,"snr":-0.6,"sig":14.8,"noi":15.9},{"h":3000,"snr":-2.0,"sig":14.0,"noi":15.7},{"h":2900,"snr":0.6,"sig":16.6,"noi":15.4},{"h":2800,"snr":2.6,"sig":18.1,"noi":15.4},{"h":2700,"snr":2.8,"sig":18.0,"noi":15.4},{"h":2600,"snr":1.8,"sig":17.0,"noi":15.4},{"h":2500,"snr":1.8,"sig":17.3,"noi":15.4},{"h":2400,"snr":1.0,"sig":16.6,"noi":15.4},{"h":2300,"snr":2.0,"sig":17.3,"noi":15.4},{"h":2200,"snr":1.0,"sig":16.2,"noi":15.1},{"h":2100,"snr":1.0,"sig":15.4,"noi":14.8},{"h":2000,"snr":2.6,"sig":18.3,"noi":15.8},{"h":1900,"snr":2.0,"sig":18.5,"noi":16.0},{"h":1800,"snr":1.4,"sig":17.7,"noi":16.4},{"h":1700,"snr":1.0,"sig":17.0,"noi":16.4},{"h":1600,"snr":3.8,"sig":20.1,"noi":16.4},{"h":1500,"snr":4.4,"sig":21.3,"noi":16.4},{"h":1400,"snr":5.8,"sig":21.5,"noi":16.0},{"h":1300,"snr":5.4,"sig":20.9,"noi":15.6},{"h":1200,"snr":5.5,"sig":22.1,"noi":17.0},{"h":1100,"snr":7.2,"sig":23.7,"noi":16.6},{"h":1000,"snr":5.4,"sig":21.3,"noi":16.4},{"h":900,"snr":2.6,"sig":18.9,"noi":16.4},{"h":800,"snr":8.0,"sig":24.3,"noi":16.8},{"h":700,"snr":7.9,"sig":24.3,"noi":16.8},{"h":600,"snr":12.7,"sig":29.6,"noi":17.0},{"h":500,"snr":15.0,"sig":32.5,"noi":17.0},{"h":400,"snr":17.5,"sig":33.9,"noi":17.5},{"h":300,"snr":16.2,"sig":32.4,"noi":16.2},{"h":200,"snr":14.3,"sig":30.9,"noi":16.4},{"h":100,"snr":13.0,"sig":30.5,"noi":17.5},{"h":0,"snr":5.8,"sig":29.5,"noi":23.5}],
"snr3":[{"h":4900,"snr":-13.8,"sig":1.5,"noi":15.2},{"h":4800,"snr":-11.5,"sig":3.8,"noi":15.2},{"h":4700,"snr":-9.1,"sig":5.8,"noi":15.2},{"h":4600,"snr":-9.6,"sig":5.5,"noi":15.2},{"h":4500,"snr":-10.2,"sig":5.2,"noi":15.2},{"h":4400,"snr":-11.5,"sig":3.6,"noi":15.2},{"h":4300,"snr":-7.2,"sig":7.8,"noi":15.2},{"h":4200,"snr":-9.6,"sig":5.5,"noi":15.2},{"h":4100,"snr":-8.6,"sig":6.2,"noi":15.0},{"h":4000,"snr":-6.2,"sig":8.0,"noi":14.3},{"h":3900,"snr":-12.6,"sig":2.8,"noi":15.1},{"h":3800,"snr":-10.2,"sig":4.7,"noi":15.3},{"h":3700,"snr":-10.6,"sig":4.6,"noi":15.4},{"h":3600,"snr":-11.5,"sig":3.4,"noi":15.5},{"h":3500,"snr":-1.2,"sig":13.8,"noi":15.5},{"h":3400,"snr":0.6,"sig":15.8,"noi":15.5},{"h":3300,"snr":-2.0,"sig":12.7,"noi":15.5},{"h":3200,"snr":-0.6,"sig":15.0,"noi":15.5},{"h":3100,"snr":-0.6,"sig":14.8,"noi":15.6},{"h":3000,"snr":-1.6,"sig":13.8,"noi":15.4},{"h":2900,"snr":0.4,"sig":15.9,"noi":15.2},{"h":2800,"snr":1.8,"sig":17.3,"noi":15.1},{"h":2700,"snr":2.2,"sig":17.0,"noi":15.0},{"h":2600,"snr":1.5,"sig":16.7,"noi":14.9},{"h":2500,"snr":2.2,"sig":16.4,"noi":14.3},{"h":2400,"snr":0.4,"sig":15.9,"noi":15.4},{"h":2300,"snr":1.4,"sig":16.8,"noi":15.6},{"h":2200,"snr":0.8,"sig":15.4,"noi":15.2},{"h":2100,"snr":0.6,"sig":15.1,"noi":15.0},{"h":2000,"snr":2.6,"sig":18.1,"noi":15.8},{"h":1900,"snr":2.3,"sig":17.7,"noi":15.4},{"h":1800,"snr":1.4,"sig":16.8,"noi":14.8},{"h":1700,"snr":1.2,"sig":16.7,"noi":15.3},{"h":1600,"snr":4.2,"sig":20.0,"noi":15.6},{"h":1500,"snr":5.5,"sig":20.7,"noi":15.1},{"h":1400,"snr":2.8,"sig":18.0,"noi":15.6},{"h":1300,"snr":2.2,"sig":18.1,"noi":15.6},{"h":1200,"snr":5.2,"sig":21.5,"noi":15.6},{"h":1100,"snr":7.6,"sig":23.5,"noi":15.6},{"h":1000,"snr":5.8,"sig":21.5,"noi":15.8},{"h":900,"snr":3.0,"sig":18.5,"noi":15.9},{"h":800,"snr":3.8,"sig":19.7,"noi":16.0},{"h":700,"snr":7.4,"sig":23.7,"noi":16.1},{"h":600,"snr":12.6,"sig":28.4,"noi":16.2},{"h":500,"snr":15.1,"sig":30.9,"noi":16.3},{"h":400,"snr":19.7,"sig":33.9,"noi":14.8},{"h":300,"snr":17.3,"sig":32.4,"noi":15.8},{"h":200,"snr":14.8,"sig":30.8,"noi":16.3},{"h":100,"snr":14.2,"sig":30.8,"noi":19.0},{"h":0,"snr":7.1,"sig":29.3,"noi":22.1}]
},
"vconcat":[
{"width":862,"height":566,"resolve":{"scale":{"x":"independent"}},
"layer":[
{"layer":[
{"data":{"name":"rows"},"mark":{"type":"rule","color":"#000","strokeWidth":1.3},"encoding":{"x":{"datum":-65,"type":"quantitative","scale":{"domain":[-65,65],"range":[79,495],"nice":false,"zero":false},"axis":null},"x2":{"datum":65},"y":{"field":"h","type":"quantitative","scale":{"domain":[0,5000],"range":[527,45],"nice":false,"zero":false},"axis":null}}},
{"data":{"values":[{}]},"mark":{"type":"rule","color":"#e4403c","strokeWidth":1.3},"encoding":{"x":{"datum":-89.69,"type":"quantitative","axis":null},"y":{"datum":5467,"type":"quantitative","axis":null},"y2":{"datum":-412}}},
{"data":{"values":[{}]},"mark":{"type":"rule","color":"#e4403c","strokeWidth":1.3},"encoding":{"x":{"datum":-89.69,"type":"quantitative","axis":null},"x2":{"datum":179.69},"y":{"datum":5467,"type":"quantitative","axis":null}}},
{"data":{"values":[{}]},"mark":{"type":"rule","color":"#e4403c","strokeWidth":1.3},"encoding":{"x":{"datum":-89.69,"type":"quantitative","axis":null},"x2":{"datum":179.69},"y":{"datum":-412,"type":"quantitative","axis":null}}},
{"data":{"name":"rows"},"transform":[{"filter":"datum.h <= 3500"}],"mark":{"type":"rule","color":"#a0a0a0","strokeWidth":1,"yOffset":-1.6},"encoding":{"x":{"datum":-65,"type":"quantitative","axis":null},"x2":{"datum":65},"y":{"field":"h","type":"quantitative","axis":null}}},
{"data":{"values":[{}]},"mark":{"type":"rule","color":"#555","strokeWidth":1.2},"encoding":{"x":{"datum":0,"type":"quantitative","axis":null},"y":{"datum":0,"type":"quantitative","axis":null},"y2":{"datum":5000}}},
{"data":{"name":"noise"},"transform":[{"fold":["r36","r37","r38","r39","r40","r41","r42","r43","r44","r45","r46","r47","r48","r49"],"as":["row","y"]}],"mark":{"type":"line","color":"#000","strokeWidth":1.1},"encoding":{"x":{"field":"f","type":"quantitative","axis":null},"y":{"field":"y","type":"quantitative","axis":null},"detail":{"field":"row","type":"nominal"}}},
{"data":{"name":"tr1"},"mark":{"type":"line","color":"#000","strokeWidth":1.1},"encoding":{"x":{"field":"f","type":"quantitative","axis":null},"y":{"field":"y","type":"quantitative","axis":null},"detail":{"field":"h","type":"nominal"}}},
{"data":{"name":"pk1"},"mark":{"type":"point","shape":"M-0.28,0L-0.1,-0.45L0,-1L0.1,-0.5L0.28,0M-0.1,-0.42L0.12,-0.42","filled":true,"fill":"#999","stroke":"#000","size":324,"strokeWidth":1.25,"opacity":1},"encoding":{"x":{"field":"f","type":"quantitative","axis":null},"y":{"field":"h","type":"quantitative","axis":null}}},
{"data":{"name":"bars1"},"mark":{"type":"rule","color":"#666","strokeWidth":1},"encoding":{"x":{"field":"a","type":"quantitative","axis":null},"x2":{"field":"b"},"y":{"field":"h","type":"quantitative","axis":null}}},
{"data":{"values":[{}]},"mark":{"type":"rect","fill":"transparent","stroke":"#000","strokeWidth":1.8},"encoding":{"x":{"datum":-65,"type":"quantitative","axis":null},"x2":{"datum":65},"y":{"datum":0,"type":"quantitative","axis":null},"y2":{"datum":5000}}},
{"data":{"name":"km"},"transform":[{"filter":"datum.m == 1"}],"mark":{"type":"rule","color":"#000","strokeWidth":1.4},"encoding":{"x":{"datum":-68.1,"type":"quantitative","axis":null},"x2":{"datum":-65},"y":{"field":"t","type":"quantitative","axis":null}}},
{"data":{"name":"km"},"transform":[{"filter":"datum.m == 0"}],"mark":{"type":"rule","color":"#000","strokeWidth":1.4},"encoding":{"x":{"datum":-66.6,"type":"quantitative","axis":null},"x2":{"datum":-65},"y":{"field":"t","type":"quantitative","axis":null}}},
{"data":{"name":"km"},"transform":[{"filter":"datum.m == 1"}],"mark":{"type":"text","align":"right","baseline":"middle","dy":0.8},"encoding":{"x":{"datum":-68.4,"type":"quantitative","axis":null},"y":{"field":"t","type":"quantitative","axis":null},"text":{"field":"l","type":"nominal"}}},
{"data":{"values":[{"t":"BAY,\u00a0\u00a0Bayreuth, POP5\n2005 Oct 13 Thu\u00a0\u00a0\u00a0\u00a000:09:45 UT\u00a0\u00a0Day 286\nAZ: 183\u00a0\u00a0\u00a0EL: 74.8\u00a0\u00a0South BEAM"}]},"mark":{"type":"text","align":"left","baseline":"top","lineBreak":"\n","lineHeight":11},"encoding":{"x":{"datum":-61.9,"type":"quantitative","axis":null},"y":{"datum":5403,"type":"quantitative","axis":null},"text":{"field":"t","type":"nominal"}}},
{"data":{"values":[{"t":"HT AGL"}]},"mark":{"type":"text","align":"left","baseline":"middle"},"encoding":{"x":{"datum":-83.0,"type":"quantitative","axis":null},"y":{"datum":5113,"type":"quantitative","axis":null},"text":{"field":"t","type":"nominal"}}},
{"data":{"values":[{"t":"-65 Hz\n(away)"}]},"mark":{"type":"text","align":"left","baseline":"top","lineBreak":"\n","lineHeight":11},"encoding":{"x":{"datum":-61.8,"type":"quantitative","axis":null},"y":{"datum":-26,"type":"quantitative","axis":null},"text":{"field":"t","type":"nominal"}}},
{"data":{"values":[{"t":"Radial\nDoppler"}]},"mark":{"type":"text","align":"center","baseline":"top","lineBreak":"\n","lineHeight":11},"encoding":{"x":{"datum":-0.4,"type":"quantitative","axis":null},"y":{"datum":-26,"type":"quantitative","axis":null},"text":{"field":"t","type":"nominal"}}},
{"data":{"values":[{"t":"65 Hz"}]},"mark":{"type":"text","align":"right","baseline":"middle"},"encoding":{"x":{"datum":63.85,"type":"quantitative","axis":null},"y":{"datum":-88,"type":"quantitative","axis":null},"text":{"field":"t","type":"nominal"}}},
{"data":{"values":[{"t":"(toward)"}]},"mark":{"type":"text","align":"right","baseline":"middle"},"encoding":{"x":{"datum":66.2,"type":"quantitative","axis":null},"y":{"datum":-202,"type":"quantitative","axis":null},"text":{"field":"t","type":"nominal"}}}
]},
{"layer":[
{"data":{"name":"dots"},"mark":{"type":"rule","color":"#000","strokeWidth":1.2,"strokeDash":[1.2,8.44],"strokeDashOffset":7.7},"encoding":{"x":{"field":"d","type":"quantitative","scale":{"domain":[-12.5,32.5],"range":[514,702],"nice":false,"zero":false},"axis":null},"y":{"datum":4900,"type":"quantitative","scale":{"domain":[0,5000],"range":[527,45],"nice":false,"zero":false},"axis":null},"y2":{"datum":0}}},
{"data":{"values":[{}]},"mark":{"type":"rule","color":"#6e6e6e","strokeWidth":1.2},"encoding":{"x":{"datum":0,"type":"quantitative","axis":null},"y":{"datum":4900,"type":"quantitative","axis":null},"y2":{"datum":0}}},
{"data":{"name":"snr1"},"transform":[{"fold":["noi","sig","snr"],"as":["s","v"]}],"mark":{"type":"line"},"encoding":{"x":{"field":"v","type":"quantitative","axis":null},"y":{"field":"h","type":"quantitative","axis":null},"order":{"field":"h","type":"quantitative"},"color":{"field":"s","type":"nominal","scale":{"domain":["noi","sig","snr"],"range":["#b3b000","#ababab","#9b0f0f"]},"legend":null},"strokeWidth":{"field":"s","type":"nominal","scale":{"domain":["noi","sig","snr"],"range":[1.2,1.1,1.6]},"legend":null}}},
{"data":{"values":[{}]},"mark":{"type":"rect","fill":"transparent","stroke":"#000","strokeWidth":1.8},"encoding":{"x":{"datum":-12.5,"type":"quantitative","axis":null},"x2":{"datum":32.5},"y":{"datum":0,"type":"quantitative","axis":null},"y2":{"datum":4900}}},
{"data":{"name":"tS"},"mark":{"type":"rule","color":"#000","strokeWidth":1.5},"encoding":{"x":{"field":"d","type":"quantitative","axis":null},"y":{"datum":4859,"type":"quantitative","axis":null},"y2":{"datum":4983}}},
{"data":{"name":"tS"},"mark":{"type":"rule","color":"#000","strokeWidth":1.5},"encoding":{"x":{"field":"d","type":"quantitative","axis":null},"y":{"datum":-62,"type":"quantitative","axis":null},"y2":{"datum":62}}},
{"data":{"name":"tL"},"mark":{"type":"rule","color":"#000","strokeWidth":1.5},"encoding":{"x":{"field":"d","type":"quantitative","axis":null},"y":{"datum":4838,"type":"quantitative","axis":null},"y2":{"datum":5004}}},
{"data":{"name":"tL"},"mark":{"type":"rule","color":"#000","strokeWidth":1.5},"encoding":{"x":{"field":"d","type":"quantitative","axis":null},"y":{"datum":-93,"type":"quantitative","axis":null},"y2":{"datum":104}}},
{"data":{"values":[{"t":"CONSENSUS OFF"}]},"mark":{"type":"text","align":"left","baseline":"middle"},"encoding":{"x":{"datum":34.34,"type":"quantitative","axis":null},"y":{"datum":5341,"type":"quantitative","axis":null},"text":{"field":"t","type":"nominal"}}},
{"data":{"values":[{"t":"IPP:\u00a0\u00a0\u00a082.000 usec\nPW:\u00a0\u00a0\u00a01.667\u00a0\u00a0\u00a0x 1"}]},"mark":{"type":"text","align":"left","baseline":"top","lineBreak":"\n","lineHeight":11},"encoding":{"x":{"datum":34.34,"type":"quantitative","axis":null},"y":{"datum":5099,"type":"quantitative","axis":null},"text":{"field":"t","type":"nominal"}}},
{"data":{"values":[{"t":"Pulse Coded"}]},"mark":{"type":"text","align":"left","baseline":"top"},"encoding":{"x":{"datum":44.25,"type":"quantitative","axis":null},"y":{"datum":4871,"type":"quantitative","axis":null},"text":{"field":"t","type":"nominal"}}},
{"data":{"values":[{"t":"NCI:\u00a0\u00a0\u00a094\nNSP:\u00a0\u00a0\u00a0\u00a09\nNHts:\u00a0\u00a050\nDLY:\u00a0\u00a0\u00a0\u00a08.583\nSPAC:\u00a0\u00a0\u00a01.000\nNPts: 512"}]},"mark":{"type":"text","align":"left","baseline":"top","lineBreak":"\n","lineHeight":11},"encoding":{"x":{"datum":34.34,"type":"quantitative","axis":null},"y":{"datum":4757,"type":"quantitative","axis":null},"text":{"field":"t","type":"nominal"}}},
{"data":{"values":[{"t":"WINDOW1+, DCFIL+\nSPEC AVG: MEAN"}]},"mark":{"type":"text","align":"left","baseline":"top","lineBreak":"\n","lineHeight":10.7},"encoding":{"x":{"datum":34.34,"type":"quantitative","axis":null},"y":{"datum":3819,"type":"quantitative","axis":null},"text":{"field":"t","type":"nominal"}}},
{"data":{"values":[{"t":"RECORDED DATA\nLINEAR SPECTRA\nNORMALIZED\nGAIN = 1.000000"}]},"mark":{"type":"text","align":"left","baseline":"top","lineBreak":"\n","lineHeight":11},"encoding":{"x":{"datum":34.34,"type":"quantitative","axis":null},"y":{"datum":441,"type":"quantitative","axis":null},"text":{"field":"t","type":"nominal"}}},
{"data":{"values":[{"t":"HTS: ALL,PTS: ALL"}]},"mark":{"type":"text","align":"left","baseline":"middle"},"encoding":{"x":{"datum":34.34,"type":"quantitative","axis":null},"y":{"datum":-202,"type":"quantitative","axis":null},"text":{"field":"t","type":"nominal"}}},
{"data":{"values":[{"t":"SNR"}]},"mark":{"type":"text","align":"left","baseline":"middle"},"encoding":{"x":{"datum":0,"type":"quantitative","axis":null},"y":{"datum":-202,"type":"quantitative","axis":null},"text":{"field":"t","type":"nominal"}}}
]}
]},
{"width":862,"height":566,"resolve":{"scale":{"x":"independent"}},
"layer":[
{"layer":[
{"data":{"name":"rows"},"mark":{"type":"rule","color":"#000","strokeWidth":1.3},"encoding":{"x":{"datum":-65,"type":"quantitative","scale":{"domain":[-65,65],"range":[79,495],"nice":false,"zero":false},"axis":null},"x2":{"datum":65},"y":{"field":"h","type":"quantitative","scale":{"domain":[0,5000],"range":[527,45],"nice":false,"zero":false},"axis":null}}},
{"data":{"values":[{}]},"mark":{"type":"rule","color":"#e4403c","strokeWidth":1.3},"encoding":{"x":{"datum":-89.69,"type":"quantitative","axis":null},"y":{"datum":5467,"type":"quantitative","axis":null},"y2":{"datum":-412}}},
{"data":{"values":[{}]},"mark":{"type":"rule","color":"#e4403c","strokeWidth":1.3},"encoding":{"x":{"datum":-89.69,"type":"quantitative","axis":null},"x2":{"datum":179.69},"y":{"datum":5467,"type":"quantitative","axis":null}}},
{"data":{"values":[{}]},"mark":{"type":"rule","color":"#e4403c","strokeWidth":1.3},"encoding":{"x":{"datum":-89.69,"type":"quantitative","axis":null},"x2":{"datum":179.69},"y":{"datum":-412,"type":"quantitative","axis":null}}},
{"data":{"name":"rows"},"transform":[{"filter":"datum.h <= 3500"}],"mark":{"type":"rule","color":"#a0a0a0","strokeWidth":1,"yOffset":-1.6},"encoding":{"x":{"datum":-65,"type":"quantitative","axis":null},"x2":{"datum":65},"y":{"field":"h","type":"quantitative","axis":null}}},
{"data":{"values":[{}]},"mark":{"type":"rule","color":"#555","strokeWidth":1.2},"encoding":{"x":{"datum":0,"type":"quantitative","axis":null},"y":{"datum":0,"type":"quantitative","axis":null},"y2":{"datum":5000}}},
{"data":{"name":"noise"},"transform":[{"fold":["r36","r37","r38","r39","r40","r41","r42","r43","r44","r45","r46","r47","r48","r49"],"as":["row","y"]}],"mark":{"type":"line","color":"#000","strokeWidth":1.1},"encoding":{"x":{"field":"f","type":"quantitative","axis":null},"y":{"field":"y","type":"quantitative","axis":null},"detail":{"field":"row","type":"nominal"}}},
{"data":{"name":"tr2"},"mark":{"type":"line","color":"#000","strokeWidth":1.1},"encoding":{"x":{"field":"f","type":"quantitative","axis":null},"y":{"field":"y","type":"quantitative","axis":null},"detail":{"field":"h","type":"nominal"}}},
{"data":{"name":"pk2"},"mark":{"type":"point","shape":"M-0.28,0L-0.1,-0.45L0,-1L0.1,-0.5L0.28,0M-0.1,-0.42L0.12,-0.42","filled":true,"fill":"#999","stroke":"#000","size":324,"strokeWidth":1.25,"opacity":1},"encoding":{"x":{"field":"f","type":"quantitative","axis":null},"y":{"field":"h","type":"quantitative","axis":null}}},
{"data":{"name":"bars2"},"mark":{"type":"rule","color":"#666","strokeWidth":1},"encoding":{"x":{"field":"a","type":"quantitative","axis":null},"x2":{"field":"b"},"y":{"field":"h","type":"quantitative","axis":null}}},
{"data":{"values":[{}]},"mark":{"type":"rect","fill":"transparent","stroke":"#000","strokeWidth":1.8},"encoding":{"x":{"datum":-65,"type":"quantitative","axis":null},"x2":{"datum":65},"y":{"datum":0,"type":"quantitative","axis":null},"y2":{"datum":5000}}},
{"data":{"name":"km"},"transform":[{"filter":"datum.m == 1"}],"mark":{"type":"rule","color":"#000","strokeWidth":1.4},"encoding":{"x":{"datum":-68.1,"type":"quantitative","axis":null},"x2":{"datum":-65},"y":{"field":"t","type":"quantitative","axis":null}}},
{"data":{"name":"km"},"transform":[{"filter":"datum.m == 0"}],"mark":{"type":"rule","color":"#000","strokeWidth":1.4},"encoding":{"x":{"datum":-66.6,"type":"quantitative","axis":null},"x2":{"datum":-65},"y":{"field":"t","type":"quantitative","axis":null}}},
{"data":{"name":"km"},"transform":[{"filter":"datum.m == 1"}],"mark":{"type":"text","align":"right","baseline":"middle","dy":0.8},"encoding":{"x":{"datum":-68.4,"type":"quantitative","axis":null},"y":{"field":"t","type":"quantitative","axis":null},"text":{"field":"l","type":"nominal"}}},
{"data":{"values":[{"t":"BAY,\u00a0\u00a0Bayreuth, POP5\n2005 Oct 13 Thu\u00a0\u00a0\u00a0\u00a000:09:45 UT\u00a0\u00a0Day 286\nAZ: 183\u00a0\u00a0\u00a0EL: 74.8\u00a0\u00a0South BEAM"}]},"mark":{"type":"text","align":"left","baseline":"top","lineBreak":"\n","lineHeight":11},"encoding":{"x":{"datum":-61.9,"type":"quantitative","axis":null},"y":{"datum":5403,"type":"quantitative","axis":null},"text":{"field":"t","type":"nominal"}}},
{"data":{"values":[{"t":"HT AGL"}]},"mark":{"type":"text","align":"left","baseline":"middle"},"encoding":{"x":{"datum":-83.0,"type":"quantitative","axis":null},"y":{"datum":5113,"type":"quantitative","axis":null},"text":{"field":"t","type":"nominal"}}},
{"data":{"values":[{"t":"-65 Hz\n(away)"}]},"mark":{"type":"text","align":"left","baseline":"top","lineBreak":"\n","lineHeight":11},"encoding":{"x":{"datum":-61.8,"type":"quantitative","axis":null},"y":{"datum":-26,"type":"quantitative","axis":null},"text":{"field":"t","type":"nominal"}}},
{"data":{"values":[{"t":"Radial\nDoppler"}]},"mark":{"type":"text","align":"center","baseline":"top","lineBreak":"\n","lineHeight":11},"encoding":{"x":{"datum":-0.4,"type":"quantitative","axis":null},"y":{"datum":-26,"type":"quantitative","axis":null},"text":{"field":"t","type":"nominal"}}},
{"data":{"values":[{"t":"65 Hz"}]},"mark":{"type":"text","align":"right","baseline":"middle"},"encoding":{"x":{"datum":63.85,"type":"quantitative","axis":null},"y":{"datum":-88,"type":"quantitative","axis":null},"text":{"field":"t","type":"nominal"}}},
{"data":{"values":[{"t":"(toward)"}]},"mark":{"type":"text","align":"right","baseline":"middle"},"encoding":{"x":{"datum":66.2,"type":"quantitative","axis":null},"y":{"datum":-202,"type":"quantitative","axis":null},"text":{"field":"t","type":"nominal"}}}
]},
{"layer":[
{"data":{"name":"dots"},"mark":{"type":"rule","color":"#000","strokeWidth":1.2,"strokeDash":[1.2,8.44],"strokeDashOffset":7.7},"encoding":{"x":{"field":"d","type":"quantitative","scale":{"domain":[-12.5,32.5],"range":[514,702],"nice":false,"zero":false},"axis":null},"y":{"datum":4900,"type":"quantitative","scale":{"domain":[0,5000],"range":[527,45],"nice":false,"zero":false},"axis":null},"y2":{"datum":0}}},
{"data":{"values":[{}]},"mark":{"type":"rule","color":"#6e6e6e","strokeWidth":1.2},"encoding":{"x":{"datum":0,"type":"quantitative","axis":null},"y":{"datum":4900,"type":"quantitative","axis":null},"y2":{"datum":0}}},
{"data":{"name":"snr2"},"transform":[{"fold":["noi","sig","snr"],"as":["s","v"]}],"mark":{"type":"line"},"encoding":{"x":{"field":"v","type":"quantitative","axis":null},"y":{"field":"h","type":"quantitative","axis":null},"order":{"field":"h","type":"quantitative"},"color":{"field":"s","type":"nominal","scale":{"domain":["noi","sig","snr"],"range":["#b3b000","#ababab","#9b0f0f"]},"legend":null},"strokeWidth":{"field":"s","type":"nominal","scale":{"domain":["noi","sig","snr"],"range":[1.2,1.1,1.6]},"legend":null}}},
{"data":{"values":[{}]},"mark":{"type":"rect","fill":"transparent","stroke":"#000","strokeWidth":1.8},"encoding":{"x":{"datum":-12.5,"type":"quantitative","axis":null},"x2":{"datum":32.5},"y":{"datum":0,"type":"quantitative","axis":null},"y2":{"datum":4900}}},
{"data":{"name":"tS"},"mark":{"type":"rule","color":"#000","strokeWidth":1.5},"encoding":{"x":{"field":"d","type":"quantitative","axis":null},"y":{"datum":4859,"type":"quantitative","axis":null},"y2":{"datum":4983}}},
{"data":{"name":"tS"},"mark":{"type":"rule","color":"#000","strokeWidth":1.5},"encoding":{"x":{"field":"d","type":"quantitative","axis":null},"y":{"datum":-62,"type":"quantitative","axis":null},"y2":{"datum":62}}},
{"data":{"name":"tL"},"mark":{"type":"rule","color":"#000","strokeWidth":1.5},"encoding":{"x":{"field":"d","type":"quantitative","axis":null},"y":{"datum":4838,"type":"quantitative","axis":null},"y2":{"datum":5004}}},
{"data":{"name":"tL"},"mark":{"type":"rule","color":"#000","strokeWidth":1.5},"encoding":{"x":{"field":"d","type":"quantitative","axis":null},"y":{"datum":-93,"type":"quantitative","axis":null},"y2":{"datum":104}}},
{"data":{"values":[{"t":"CONSENSUS OFF"}]},"mark":{"type":"text","align":"left","baseline":"middle"},"encoding":{"x":{"datum":34.34,"type":"quantitative","axis":null},"y":{"datum":5341,"type":"quantitative","axis":null},"text":{"field":"t","type":"nominal"}}},
{"data":{"values":[{"t":"IPP:\u00a0\u00a0\u00a082.000 usec\nPW:\u00a0\u00a0\u00a01.667\u00a0\u00a0\u00a0x 1"}]},"mark":{"type":"text","align":"left","baseline":"top","lineBreak":"\n","lineHeight":11},"encoding":{"x":{"datum":34.34,"type":"quantitative","axis":null},"y":{"datum":5099,"type":"quantitative","axis":null},"text":{"field":"t","type":"nominal"}}},
{"data":{"values":[{"t":"Pulse Coded"}]},"mark":{"type":"text","align":"left","baseline":"top"},"encoding":{"x":{"datum":44.25,"type":"quantitative","axis":null},"y":{"datum":4871,"type":"quantitative","axis":null},"text":{"field":"t","type":"nominal"}}},
{"data":{"values":[{"t":"NCI:\u00a0\u00a0\u00a094\nNSP:\u00a0\u00a0\u00a0\u00a09\nNHts:\u00a0\u00a050\nDLY:\u00a0\u00a0\u00a0\u00a08.583\nSPAC:\u00a0\u00a0\u00a01.000\nNPts: 512"}]},"mark":{"type":"text","align":"left","baseline":"top","lineBreak":"\n","lineHeight":11},"encoding":{"x":{"datum":34.34,"type":"quantitative","axis":null},"y":{"datum":4757,"type":"quantitative","axis":null},"text":{"field":"t","type":"nominal"}}},
{"data":{"values":[{"t":"WINDOW1+, DCFIL+\nSPEC AVG: ICRA"}]},"mark":{"type":"text","align":"left","baseline":"top","lineBreak":"\n","lineHeight":10.7},"encoding":{"x":{"datum":34.34,"type":"quantitative","axis":null},"y":{"datum":3819,"type":"quantitative","axis":null},"text":{"field":"t","type":"nominal"}}},
{"data":{"values":[{"t":"RECORDED DATA\nLINEAR SPECTRA\nNORMALIZED\nGAIN = 1.000000"}]},"mark":{"type":"text","align":"left","baseline":"top","lineBreak":"\n","lineHeight":11},"encoding":{"x":{"datum":34.34,"type":"quantitative","axis":null},"y":{"datum":441,"type":"quantitative","axis":null},"text":{"field":"t","type":"nominal"}}},
{"data":{"values":[{"t":"HTS: ALL,PTS: ALL"}]},"mark":{"type":"text","align":"left","baseline":"middle"},"encoding":{"x":{"datum":34.34,"type":"quantitative","axis":null},"y":{"datum":-202,"type":"quantitative","axis":null},"text":{"field":"t","type":"nominal"}}},
{"data":{"values":[{"t":"SNR"}]},"mark":{"type":"text","align":"left","baseline":"middle"},"encoding":{"x":{"datum":0,"type":"quantitative","axis":null},"y":{"datum":-202,"type":"quantitative","axis":null},"text":{"field":"t","type":"nominal"}}}
]}
]},
{"width":862,"height":566,"resolve":{"scale":{"x":"independent"}},
"layer":[
{"layer":[
{"data":{"name":"rows"},"mark":{"type":"rule","color":"#000","strokeWidth":1.3},"encoding":{"x":{"datum":-65,"type":"quantitative","scale":{"domain":[-65,65],"range":[79,495],"nice":false,"zero":false},"axis":null},"x2":{"datum":65},"y":{"field":"h","type":"quantitative","scale":{"domain":[0,5000],"range":[527,45],"nice":false,"zero":false},"axis":null}}},
{"data":{"values":[{}]},"mark":{"type":"rule","color":"#e4403c","strokeWidth":1.3},"encoding":{"x":{"datum":-89.69,"type":"quantitative","axis":null},"y":{"datum":5467,"type":"quantitative","axis":null},"y2":{"datum":-412}}},
{"data":{"values":[{}]},"mark":{"type":"rule","color":"#e4403c","strokeWidth":1.3},"encoding":{"x":{"datum":-89.69,"type":"quantitative","axis":null},"x2":{"datum":179.69},"y":{"datum":5467,"type":"quantitative","axis":null}}},
{"data":{"values":[{}]},"mark":{"type":"rule","color":"#e4403c","strokeWidth":1.3},"encoding":{"x":{"datum":-89.69,"type":"quantitative","axis":null},"x2":{"datum":179.69},"y":{"datum":-412,"type":"quantitative","axis":null}}},
{"data":{"name":"rows"},"transform":[{"filter":"datum.h <= 3500"}],"mark":{"type":"rule","color":"#a0a0a0","strokeWidth":1,"yOffset":-1.6},"encoding":{"x":{"datum":-65,"type":"quantitative","axis":null},"x2":{"datum":65},"y":{"field":"h","type":"quantitative","axis":null}}},
{"data":{"values":[{}]},"mark":{"type":"rule","color":"#555","strokeWidth":1.2},"encoding":{"x":{"datum":0,"type":"quantitative","axis":null},"y":{"datum":0,"type":"quantitative","axis":null},"y2":{"datum":5000}}},
{"data":{"name":"noise"},"transform":[{"fold":["r36","r37","r38","r39","r40","r41","r42","r43","r44","r45","r46","r47","r48","r49"],"as":["row","y"]}],"mark":{"type":"line","color":"#000","strokeWidth":1.1},"encoding":{"x":{"field":"f","type":"quantitative","axis":null},"y":{"field":"y","type":"quantitative","axis":null},"detail":{"field":"row","type":"nominal"}}},
{"data":{"name":"tr3"},"mark":{"type":"line","color":"#000","strokeWidth":1.1},"encoding":{"x":{"field":"f","type":"quantitative","axis":null},"y":{"field":"y","type":"quantitative","axis":null},"detail":{"field":"h","type":"nominal"}}},
{"data":{"name":"pk3"},"mark":{"type":"point","shape":"M-0.28,0L-0.1,-0.45L0,-1L0.1,-0.5L0.28,0M-0.1,-0.42L0.12,-0.42","filled":true,"fill":"#999","stroke":"#000","size":324,"strokeWidth":1.25,"opacity":1},"encoding":{"x":{"field":"f","type":"quantitative","axis":null},"y":{"field":"h","type":"quantitative","axis":null}}},
{"data":{"values":[{}]},"mark":{"type":"rect","fill":"transparent","stroke":"#000","strokeWidth":1.8},"encoding":{"x":{"datum":-65,"type":"quantitative","axis":null},"x2":{"datum":65},"y":{"datum":0,"type":"quantitative","axis":null},"y2":{"datum":5000}}},
{"data":{"name":"km"},"transform":[{"filter":"datum.m == 1"}],"mark":{"type":"rule","color":"#000","strokeWidth":1.4},"encoding":{"x":{"datum":-68.1,"type":"quantitative","axis":null},"x2":{"datum":-65},"y":{"field":"t","type":"quantitative","axis":null}}},
{"data":{"name":"km"},"transform":[{"filter":"datum.m == 0"}],"mark":{"type":"rule","color":"#000","strokeWidth":1.4},"encoding":{"x":{"datum":-66.6,"type":"quantitative","axis":null},"x2":{"datum":-65},"y":{"field":"t","type":"quantitative","axis":null}}},
{"data":{"name":"km"},"transform":[{"filter":"datum.m == 1"}],"mark":{"type":"text","align":"right","baseline":"middle","dy":0.8},"encoding":{"x":{"datum":-68.4,"type":"quantitative","axis":null},"y":{"field":"t","type":"quantitative","axis":null},"text":{"field":"l","type":"nominal"}}},
{"data":{"values":[{"t":"BAY,\u00a0\u00a0Bayreuth, POP5\n2005 Oct 13 Thu\u00a0\u00a0\u00a0\u00a000:09:45 UT\u00a0\u00a0Day 286\nAZ: 183\u00a0\u00a0\u00a0EL: 74.8\u00a0\u00a0South BEAM"}]},"mark":{"type":"text","align":"left","baseline":"top","lineBreak":"\n","lineHeight":11},"encoding":{"x":{"datum":-61.9,"type":"quantitative","axis":null},"y":{"datum":5403,"type":"quantitative","axis":null},"text":{"field":"t","type":"nominal"}}},
{"data":{"values":[{"t":"HT AGL"}]},"mark":{"type":"text","align":"left","baseline":"middle"},"encoding":{"x":{"datum":-83.0,"type":"quantitative","axis":null},"y":{"datum":5113,"type":"quantitative","axis":null},"text":{"field":"t","type":"nominal"}}},
{"data":{"values":[{"t":"-65 Hz\n(away)"}]},"mark":{"type":"text","align":"left","baseline":"top","lineBreak":"\n","lineHeight":11},"encoding":{"x":{"datum":-61.8,"type":"quantitative","axis":null},"y":{"datum":-26,"type":"quantitative","axis":null},"text":{"field":"t","type":"nominal"}}},
{"data":{"values":[{"t":"Radial\nDoppler"}]},"mark":{"type":"text","align":"center","baseline":"top","lineBreak":"\n","lineHeight":11},"encoding":{"x":{"datum":-0.4,"type":"quantitative","axis":null},"y":{"datum":-26,"type":"quantitative","axis":null},"text":{"field":"t","type":"nominal"}}},
{"data":{"values":[{"t":"65 Hz"}]},"mark":{"type":"text","align":"right","baseline":"middle"},"encoding":{"x":{"datum":63.85,"type":"quantitative","axis":null},"y":{"datum":-88,"type":"quantitative","axis":null},"text":{"field":"t","type":"nominal"}}},
{"data":{"values":[{"t":"(toward)"}]},"mark":{"type":"text","align":"right","baseline":"middle"},"encoding":{"x":{"datum":66.2,"type":"quantitative","axis":null},"y":{"datum":-202,"type":"quantitative","axis":null},"text":{"field":"t","type":"nominal"}}}
]},
{"layer":[
{"data":{"name":"dots"},"mark":{"type":"rule","color":"#000","strokeWidth":1.2,"strokeDash":[1.2,8.44],"strokeDashOffset":7.7},"encoding":{"x":{"field":"d","type":"quantitative","scale":{"domain":[-12.5,32.5],"range":[514,702],"nice":false,"zero":false},"axis":null},"y":{"datum":4900,"type":"quantitative","scale":{"domain":[0,5000],"range":[527,45],"nice":false,"zero":false},"axis":null},"y2":{"datum":0}}},
{"data":{"values":[{}]},"mark":{"type":"rule","color":"#6e6e6e","strokeWidth":1.2},"encoding":{"x":{"datum":0,"type":"quantitative","axis":null},"y":{"datum":4900,"type":"quantitative","axis":null},"y2":{"datum":0}}},
{"data":{"name":"snr3"},"transform":[{"fold":["noi","sig","snr"],"as":["s","v"]}],"mark":{"type":"line"},"encoding":{"x":{"field":"v","type":"quantitative","axis":null},"y":{"field":"h","type":"quantitative","axis":null},"order":{"field":"h","type":"quantitative"},"color":{"field":"s","type":"nominal","scale":{"domain":["noi","sig","snr"],"range":["#b3b000","#ababab","#9b0f0f"]},"legend":null},"strokeWidth":{"field":"s","type":"nominal","scale":{"domain":["noi","sig","snr"],"range":[1.2,1.1,1.6]},"legend":null}}},
{"data":{"values":[{}]},"mark":{"type":"rect","fill":"transparent","stroke":"#000","strokeWidth":1.8},"encoding":{"x":{"datum":-12.5,"type":"quantitative","axis":null},"x2":{"datum":32.5},"y":{"datum":0,"type":"quantitative","axis":null},"y2":{"datum":4900}}},
{"data":{"name":"tS"},"mark":{"type":"rule","color":"#000","strokeWidth":1.5},"encoding":{"x":{"field":"d","type":"quantitative","axis":null},"y":{"datum":4859,"type":"quantitative","axis":null},"y2":{"datum":4983}}},
{"data":{"name":"tS"},"mark":{"type":"rule","color":"#000","strokeWidth":1.5},"encoding":{"x":{"field":"d","type":"quantitative","axis":null},"y":{"datum":-62,"type":"quantitative","axis":null},"y2":{"datum":62}}},
{"data":{"name":"tL"},"mark":{"type":"rule","color":"#000","strokeWidth":1.5},"encoding":{"x":{"field":"d","type":"quantitative","axis":null},"y":{"datum":4838,"type":"quantitative","axis":null},"y2":{"datum":5004}}},
{"data":{"name":"tL"},"mark":{"type":"rule","color":"#000","strokeWidth":1.5},"encoding":{"x":{"field":"d","type":"quantitative","axis":null},"y":{"datum":-93,"type":"quantitative","axis":null},"y2":{"datum":104}}},
{"data":{"values":[{"t":"CONSENSUS OFF"}]},"mark":{"type":"text","align":"left","baseline":"middle"},"encoding":{"x":{"datum":34.34,"type":"quantitative","axis":null},"y":{"datum":5341,"type":"quantitative","axis":null},"text":{"field":"t","type":"nominal"}}},
{"data":{"values":[{"t":"IPP:\u00a0\u00a0\u00a082.000 usec\nPW:\u00a0\u00a0\u00a01.667\u00a0\u00a0\u00a0x 1"}]},"mark":{"type":"text","align":"left","baseline":"top","lineBreak":"\n","lineHeight":11},"encoding":{"x":{"datum":34.34,"type":"quantitative","axis":null},"y":{"datum":5099,"type":"quantitative","axis":null},"text":{"field":"t","type":"nominal"}}},
{"data":{"values":[{"t":"Pulse Coded"}]},"mark":{"type":"text","align":"left","baseline":"top"},"encoding":{"x":{"datum":44.25,"type":"quantitative","axis":null},"y":{"datum":4871,"type":"quantitative","axis":null},"text":{"field":"t","type":"nominal"}}},
{"data":{"values":[{"t":"NCI:\u00a0\u00a0\u00a094\nNSP:\u00a0\u00a0\u00a0\u00a09\nNHts:\u00a0\u00a050\nDLY:\u00a0\u00a0\u00a0\u00a08.583\nSPAC:\u00a0\u00a0\u00a01.000\nNPts: 512"}]},"mark":{"type":"text","align":"left","baseline":"top","lineBreak":"\n","lineHeight":11},"encoding":{"x":{"datum":34.34,"type":"quantitative","axis":null},"y":{"datum":4757,"type":"quantitative","axis":null},"text":{"field":"t","type":"nominal"}}},
{"data":{"values":[{"t":"WINDOW1+, DCFIL+\nSPEC AVG: ICRA"}]},"mark":{"type":"text","align":"left","baseline":"top","lineBreak":"\n","lineHeight":10.7},"encoding":{"x":{"datum":34.34,"type":"quantitative","axis":null},"y":{"datum":3819,"type":"quantitative","axis":null},"text":{"field":"t","type":"nominal"}}},
{"data":{"values":[{"t":"RECORDED DATA\nLINEAR SPECTRA\nNORMALIZED\nGAIN = 1.000000"}]},"mark":{"type":"text","align":"left","baseline":"top","lineBreak":"\n","lineHeight":11},"encoding":{"x":{"datum":34.34,"type":"quantitative","axis":null},"y":{"datum":441,"type":"quantitative","axis":null},"text":{"field":"t","type":"nominal"}}},
{"data":{"values":[{"t":"HTS: ALL,PTS: ALL"}]},"mark":{"type":"text","align":"left","baseline":"middle"},"encoding":{"x":{"datum":34.34,"type":"quantitative","axis":null},"y":{"datum":-202,"type":"quantitative","axis":null},"text":{"field":"t","type":"nominal"}}},
{"data":{"values":[{"t":"SNR"}]},"mark":{"type":"text","align":"left","baseline":"middle"},"encoding":{"x":{"datum":0,"type":"quantitative","axis":null},"y":{"datum":-202,"type":"quantitative","axis":null},"text":{"field":"t","type":"nominal"}}}
]}
]}
]
}
